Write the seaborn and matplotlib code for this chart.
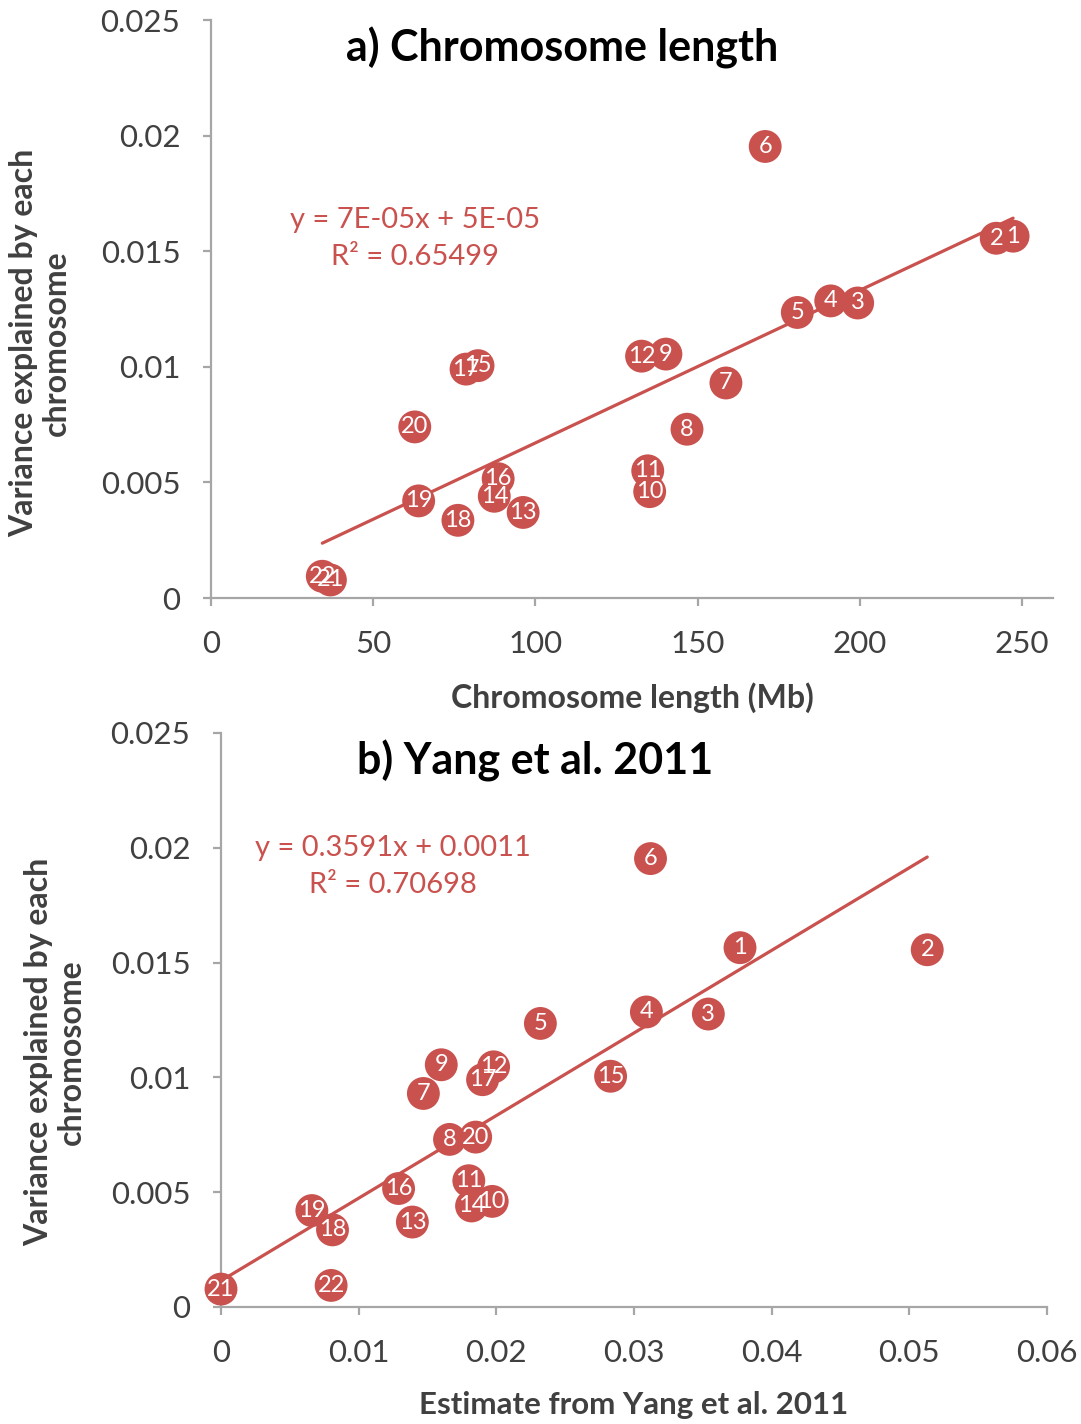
import numpy as np
import pandas as pd
import matplotlib
matplotlib.use("Agg")
import matplotlib.pyplot as plt
import seaborn as sns

# ---- data ----
chromosomes = [str(i) for i in range(1, 23)]
chrom_length_mb = [247.2, 242.0, 199.3, 191.0, 180.7, 170.8, 158.7, 146.7, 140.2, 135.2, 134.6,
                   132.7, 96.2, 87.3, 82.3, 88.5, 78.6, 76.1, 64.0, 62.8, 36.8, 34.3]
yang_estimate = [0.0377, 0.0513, 0.0354, 0.0309, 0.0232, 0.0312, 0.0147, 0.0166, 0.0160, 0.0197,
                 0.0180, 0.0198, 0.0139, 0.0182, 0.0283, 0.0129, 0.0190, 0.0081, 0.0066, 0.0185,
                 0.0000, 0.0080]
variance_explained = [0.01565, 0.01556, 0.01276, 0.01285, 0.01235, 0.01953, 0.00930, 0.00730,
                      0.01055, 0.00460, 0.00550, 0.01046, 0.00370, 0.00440, 0.01005, 0.00516,
                      0.00990, 0.00336, 0.00420, 0.00740, 0.00078, 0.00094]

eq_a = ["y = 7E-05x + 5E-05", "R² = 0.65499"]
eq_b = ["y = 0.3591x + 0.0011", "R² = 0.70698"]

df = pd.DataFrame({"chrom": chromosomes, "length": chrom_length_mb,
                   "yang": yang_estimate, "var": variance_explained})

sns.set_theme(style="white")
plt.rcParams['font.family'] = ['Lato', 'DejaVu Sans']

RED = "#C9514E"
GRAY = "#A6A6A6"
TXT = "#404040"

fig = plt.figure(figsize=(10.81, 14.24), dpi=100)
W, H = 1081, 1424
ax1 = fig.add_axes([211 / W, 1 - 598 / H, (1053 - 211) / W, (598 - 20) / H])
ax2 = fig.add_axes([221 / W, 1 - 1307 / H, (1047 - 221) / W, (1307 - 733) / H])


def style(ax):
    for s in ["top", "right"]:
        ax.spines[s].set_visible(False)
    for s in ["left", "bottom"]:
        ax.spines[s].set_color(GRAY)
        ax.spines[s].set_linewidth(1.6)
    ax.tick_params(axis="both", which="major", direction="out", length=6, width=1.6,
                   color=GRAY, labelsize=22.5, labelcolor=TXT,
                   bottom=True, left=True)
    ax.tick_params(axis="y", pad=16)
    ax.tick_params(axis="x", pad=17)
    ax.grid(False)


def panel(ax, xcol, xlim, xticks, xticklabels, title, eq, eq_xy, xlabel):
    sns.regplot(data=df, x=xcol, y="var", ax=ax, scatter=False, ci=None,
                color=RED, line_kws={"linewidth": 2.3, "zorder": 2})
    sns.scatterplot(data=df, x=xcol, y="var", ax=ax, s=560, color=RED,
                    edgecolor="none", zorder=3, legend=False, clip_on=False)
    for _, r in df.iterrows():
        ax.text(r[xcol], r["var"], r["chrom"], color="white", fontsize=17,
                ha="center", va="center", zorder=4, clip_on=False)
    ax.set_xlim(*xlim)
    ax.set_ylim(0, 0.025)
    ax.set_xticks(xticks)
    ax.set_xticklabels(xticklabels)
    ax.set_yticks([0, 0.005, 0.01, 0.015, 0.02, 0.025])
    ax.set_yticklabels(["0", "0.005", "0.01", "0.015", "0.02", "0.025"])
    ax.set_xlabel("")
    ax.set_ylabel("")
    style(ax)
    ax.set_title("")
    ax.text(title[1], title[2], title[0], transform=fig.transFigure, fontsize=31,
            fontweight="bold", ha="center", va="center", color="black")
    ax.text(eq_xy[0] / W, 1 - eq_xy[1] / H, eq[0], transform=fig.transFigure,
            fontsize=21, color=RED, ha="center", va="center")
    ax.text(eq_xy[0] / W, 1 - (eq_xy[1] + 37) / H, eq[1], transform=fig.transFigure,
            fontsize=21, color=RED, ha="center", va="center")
    ax.text(xlabel[1] / W, 1 - xlabel[2] / H, xlabel[0], transform=fig.transFigure,
            fontsize=xlabel[3], fontweight="bold", ha="center", va="center", color=TXT)


panel(ax1, "length", (0, 259.5), [0, 50, 100, 150, 200, 250],
      ["0", "50", "100", "150", "200", "250"],
      ("a) Chromosome length", 562 / W, 1 - 48 / H), eq_a, (415, 220),
      ("Chromosome length (Mb)", 632, 698, 23))
panel(ax2, "yang", (0, 0.06), [0, 0.01, 0.02, 0.03, 0.04, 0.05, 0.06],
      ["0", "0.01", "0.02", "0.03", "0.04", "0.05", "0.06"],
      ("b) Yang et al. 2011", 535 / W, 1 - 761 / H), eq_b, (393, 848),
      ("Estimate from Yang et al. 2011", 634, 1405, 22.5))

fig.text(40 / W, 1 - 343 / H, "Variance explained by each\nchromosome", rotation=90,
         fontsize=23, fontweight="bold", ha="center", va="center", color=TXT,
         linespacing=1.15)
fig.text(55 / W, 1 - 1052 / H, "Variance explained by each\nchromosome", rotation=90,
         fontsize=23, fontweight="bold", ha="center", va="center", color=TXT,
         linespacing=1.15)

fig.savefig("out.png", dpi=100, facecolor="white")
